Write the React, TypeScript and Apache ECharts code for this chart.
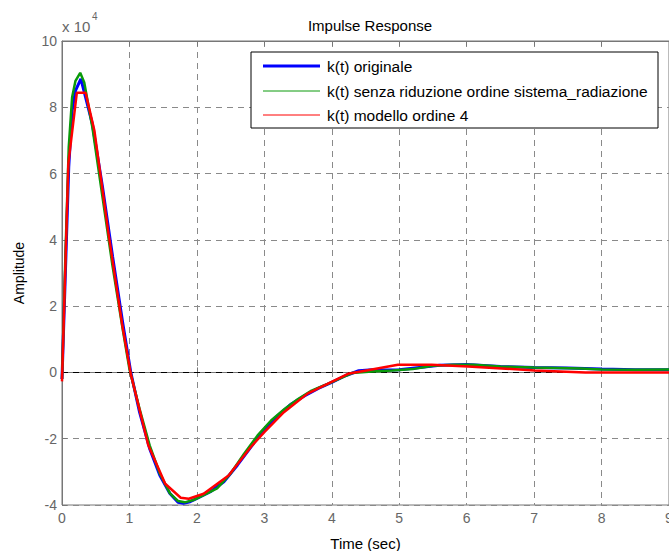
import React, { useEffect, useRef } from "react";
import * as echarts from "echarts";

const xTicks = [0, 1, 2, 3, 4, 5, 6, 7, 8, 9];
const yTicks = [-40000, -20000, 0, 20000, 40000, 60000, 80000, 100000];

const seriesNames = [
  "k(t) originale",
  "k(t) senza riduzione ordine sistema_radiazione",
  "k(t) modello ordine 4",
];

const tOriginale = [0, 0.05, 0.1, 0.15, 0.2, 0.28, 0.35, 0.45, 0.6, 0.75, 0.9, 1.02, 1.15, 1.3, 1.45, 1.6, 1.72, 1.8, 1.9, 2.0, 2.2, 2.4, 2.6, 2.8, 3.0, 3.2, 3.4, 3.6, 3.8, 4.0, 4.2, 4.4, 4.6, 4.8, 5.0, 5.3, 5.6, 6.0, 6.5, 7.0, 7.5, 8.0, 8.5, 9.0];
const kOriginale = [-2000, 30000, 62000, 79000, 85000, 88600, 83000, 75000, 56000, 35000, 15000, 0, -12000, -23000, -31000, -36500, -39200, -39500, -39000, -38000, -36000, -33000, -28000, -22500, -17200, -13000, -9500, -7000, -4800, -3000, -1000, 500, 800, 700, 800, 1500, 2200, 2400, 1800, 1500, 1300, 1000, 800, 800];

const tSenzaRiduzione = [0, 0.05, 0.1, 0.15, 0.2, 0.27, 0.33, 0.45, 0.6, 0.75, 0.9, 1.0, 1.15, 1.3, 1.45, 1.6, 1.72, 1.82, 1.95, 2.1, 2.3, 2.5, 2.7, 2.9, 3.1, 3.3, 3.5, 3.7, 3.9, 4.1, 4.3, 4.6, 4.9, 5.2, 5.5, 5.8, 6.1, 6.5, 7.0, 7.7, 8.0, 8.5, 9.0];
const kSenzaRiduzione = [-2000, 35000, 68000, 83000, 88000, 90400, 87500, 74000, 53000, 32000, 13000, 1000, -11000, -22000, -30500, -36500, -38800, -39200, -38500, -37000, -35000, -30500, -24500, -19000, -14500, -11000, -8000, -5500, -3800, -2000, -200, 300, 600, 1000, 2000, 2300, 2300, 1800, 1500, 1200, 900, 800, 900];

const tModello4 = [0, 0.094, 0.22, 0.35, 0.48, 0.69, 0.89, 1.02, 1.28, 1.53, 1.76, 1.88, 2.1, 2.47, 2.8, 3.0, 3.29, 3.64, 3.99, 4.24, 4.43, 4.98, 5.48, 6.02, 6.52, 7.01, 7.76, 9.0];
const kModello4 = [-2700, 63000, 84400, 84400, 73000, 41800, 14700, -500, -22000, -33600, -37800, -38100, -36600, -31100, -22500, -18000, -12000, -6400, -2900, -400, 300, 2300, 2300, 1800, 1200, 600, 0, 0];

const colors = ["#0000ff", "#0a9a0a", "#ff0000"];
const FONT = "'Liberation Sans', Arial, Helvetica, sans-serif";

export default function App() {
  const ref = useRef<HTMLDivElement>(null);
  useEffect(() => {
    if (!ref.current) return;
    const chart = echarts.init(ref.current, null, { renderer: "svg" });
    const pairs = (t: number[], k: number[]) => t.map((x, i) => [x, k[i]]);
    const splitLine = {
      show: true,
      lineStyle: { color: "#8a8a8a", type: [6, 5] as any, width: 1 },
    };
    const legendX = 251, legendY = 52, legendW = 407, legendH = 76;
    const rowY = [66, 91, 115];
    const lineW = [3, 1, 1];
    const legendItems: any[] = [
      {
        type: "rect",
        shape: { x: legendX, y: legendY, width: legendW, height: legendH },
        style: { fill: "#fff", stroke: "#000", lineWidth: 1 },
        z: 100,
      },
    ];
    seriesNames.forEach((name, i) => {
      legendItems.push({
        type: "line",
        shape: { x1: 263, y1: rowY[i], x2: 320, y2: rowY[i] },
        style: { stroke: colors[i], lineWidth: lineW[i] },
        z: 101,
      });
      legendItems.push({
        type: "text",
        x: 327,
        y: rowY[i],
        style: {
          text: name,
          fill: "#000",
          font: `15.5px ${FONT}`,
          verticalAlign: "middle",
        },
        z: 101,
      });
    });
    chart.setOption({
      animation: false,
      backgroundColor: "#fff",
      title: {
        text: "Impulse Response",
        left: 365,
        top: 13,
        textAlign: "center",
        textStyle: { fontFamily: FONT, fontSize: 15, fontWeight: "normal", color: "#000" },
      },
      grid: {
        left: 62,
        right: 0,
        top: 41,
        bottom: 46,
        containLabel: false,
        outerBoundsMode: "none",
        show: true,
        borderColor: "#777",
        borderWidth: 1,
        backgroundColor: "#fff",
      },
      xAxis: [
        {
          type: "value",
          min: 0,
          max: 9,
          interval: 1,
          name: "Time (sec)",
          nameLocation: "middle",
          nameGap: 31,
          nameTextStyle: { fontFamily: FONT, fontSize: 15, color: "#000" },
          axisLine: { show: true, lineStyle: { color: "#777", width: 1 } },
          axisTick: { show: true, inside: true, length: 5, lineStyle: { color: "#777" } },
          axisLabel: {
            fontFamily: FONT,
            fontSize: 14,
            color: "#666",
            margin: 6,
            formatter: (v: number) => (xTicks.includes(v) ? String(v) : ""),
          },
          splitLine,
        },
        {
          type: "value",
          position: "top",
          min: 0,
          max: 9,
          interval: 1,
          axisLine: { show: true, lineStyle: { color: "#777" } },
          axisTick: { show: true, inside: true, length: 5, lineStyle: { color: "#777" } },
          axisLabel: { show: false },
          splitLine: { show: false },
        },
      ],
      yAxis: [
        {
          type: "value",
          min: -40000,
          max: 100000,
          interval: 20000,
          name: "Amplitude",
          nameLocation: "middle",
          nameGap: 36,
          nameRotate: 90,
          nameTextStyle: { fontFamily: FONT, fontSize: 14, color: "#000" },
          axisLine: { show: true, lineStyle: { color: "#777", width: 1 } },
          axisTick: { show: true, inside: true, length: 5, lineStyle: { color: "#777" } },
          axisLabel: {
            fontFamily: FONT,
            fontSize: 14,
            color: "#666",
            margin: 5,
            formatter: (v: number) => (yTicks.includes(v) ? String(v / 10000) : ""),
          },
          splitLine,
        },
      ],
      series: [
        {
          name: seriesNames[0],
          type: "line",
          data: pairs(tOriginale, kOriginale),
          showSymbol: false,
          symbol: "none",
          lineStyle: { color: colors[0], width: 3 },
          z: 3,
          markLine: {
            silent: true,
            symbol: "none",
            label: { show: false },
            lineStyle: { color: "#000", type: [6, 5] as any, width: 1 },
            data: [{ yAxis: 0 }],
            z: 2,
          },
        },
        {
          name: seriesNames[1],
          type: "line",
          data: pairs(tSenzaRiduzione, kSenzaRiduzione),
          showSymbol: false,
          symbol: "none",
          lineStyle: { color: colors[1], width: 2.5 },
          z: 4,
        },
        {
          name: seriesNames[2],
          type: "line",
          data: pairs(tModello4, kModello4),
          showSymbol: false,
          symbol: "none",
          lineStyle: { color: colors[2], width: 2.5 },
          z: 5,
        },
      ],
      graphic: [
        {
          type: "text",
          x: 62,
          y: 26,
          style: { text: "x 10", fill: "#666", font: `15px ${FONT}`, verticalAlign: "middle" },
        },
        {
          type: "text",
          x: 92,
          y: 16,
          style: { text: "4", fill: "#666", font: `10px ${FONT}`, verticalAlign: "middle" },
        },
        ...legendItems,
      ],
    });
    return () => chart.dispose();
  }, []);
  return <div ref={ref} style={{ width: 669, height: 551, position: "absolute", left: 0, top: 0 }} />;
}
